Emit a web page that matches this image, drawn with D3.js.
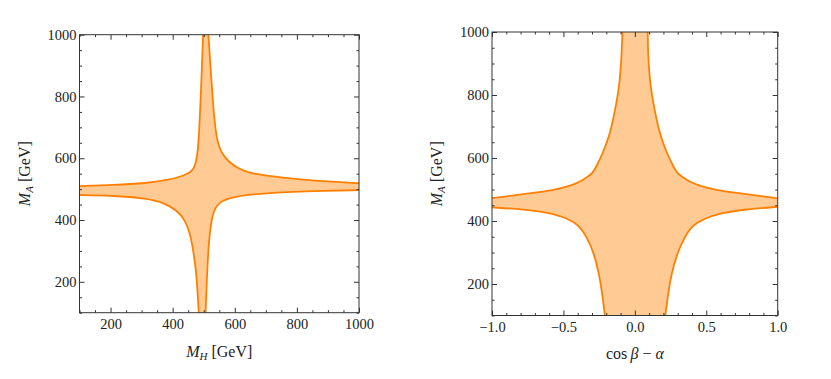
<!DOCTYPE html>
<html>
<head>
<meta charset="utf-8">
<script src="https://cdn.jsdelivr.net/npm/d3@7"></script>
<style>
  body { margin: 0; background: #fff; }
  svg text { font-family: "Liberation Serif", "DejaVu Serif", serif; fill: #222; }
</style>
</head>
<body>
<svg id="chart" width="831" height="379"></svg>
<script>
// ---- left panel: M_H vs M_A, boundary branches ----
var mhUpperLeft = [[498,1000],[494,894],[490,786],[485,678],[481,624],[476,592],[470,572],[463,560],[450,551],[424,540],[386,530],[316,519],[209,513],[100,510]];
var mhLowerLeft = [[100,481],[209,479],[316,470],[370,457],[413,432],[440,400],[456,357],[466,303],[475,238],[480,174],[484,100]];
var mhLowerRight = [[506,100],[509,184],[514,292],[520,368],[531,432],[552,460],[595,476],[692,487],[853,494],[1000,497]];
var mhUpperRight = [[1000,519],[853,527],[745,538],[659,550],[627,560],[606,571],[590,581],[568,603],[555,624],[547,646],[539,678],[529,786],[522,894],[515,1000]];

// ---- right panel: cos(beta - alpha) vs M_A ----
var cbaUpperLeft = [[-0.087,1000],[-0.092,932],[-0.107,826],[-0.152,721],[-0.18,668],[-0.225,615],[-0.27,572],[-0.30,550],[-0.33,541],[-0.38,525],[-0.46,510],[-0.57,498],[-0.74,488],[-0.91,477],[-1,473]];
var cbaLowerLeft = [[-1,443],[-0.77,437],[-0.60,426],[-0.46,407],[-0.39,385],[-0.337,350],[-0.285,297],[-0.25,230],[-0.23,175],[-0.21,100]];
var cbaLowerRight = [[0.213,100],[0.235,175],[0.255,230],[0.295,297],[0.35,350],[0.40,385],[0.48,407],[0.61,426],[0.773,437],[1,445]];
var cbaUpperRight = [[1,472],[0.91,477],[0.74,488],[0.57,498],[0.46,510],[0.38,525],[0.33,541],[0.30,550],[0.27,572],[0.225,615],[0.18,668],[0.152,721],[0.107,826],[0.092,932],[0.09,1000]];

// ticks
var mhMajor = [200,400,600,800,1000];
var mhMinor = d3.range(100, 1001, 50).filter(function(v){ return mhMajor.indexOf(v) < 0; });
var maMajor = [200,400,600,800,1000];
var maMinor = d3.range(100, 1001, 50).filter(function(v){ return maMajor.indexOf(v) < 0; });
var cbaMajor = [-1,-0.5,0,0.5,1];
var cbaMinor = d3.range(-10, 11).map(function(v){ return v/10; }).filter(function(v){ return v*2 !== Math.round(v*2); });

var svg = d3.select('#chart');
var orange = '#ff8000';
var serif = '"Liberation Serif", "DejaVu Serif", serif';

function panel(cfg) {
    var x = d3.scaleLinear().domain(cfg.xDomain).range([cfg.left, cfg.right]);
    var y = d3.scaleLinear().domain([100, 1000]).range([cfg.bottom, cfg.top]);
    var g = svg.append('g');

    g.append('clipPath').attr('id', 'clip-' + cfg.id)
        .append('rect')
        .attr('x', cfg.left).attr('y', cfg.top)
        .attr('width', cfg.right - cfg.left).attr('height', cfg.bottom - cfg.top);

    // basis spline smooths out small reading errors, still ends on the frame
    var line = d3.line()
        .x(function(d){ return x(d[0]); })
        .y(function(d){ return y(d[1]); })
        .curve(d3.curveBasis);

    var plot = g.append('g').attr('clip-path', 'url(#clip-' + cfg.id + ')');

    // filled region: branches joined in order round the cross
    var fillPath = cfg.branches.map(function(b, i){
        var p = line(b);
        return i === 0 ? p : 'L' + p.slice(1);
    }).join('') + 'Z';
    plot.append('path')
        .attr('d', fillPath)
        .attr('fill', orange)
        .attr('fill-opacity', 0.42)
        .attr('stroke', 'none');

    plot.selectAll('.branch')
        .data(cfg.branches)
        .enter().append('path')
        .attr('class', 'branch')
        .attr('d', line)
        .attr('fill', 'none')
        .attr('stroke', orange)
        .attr('stroke-width', 1.8);

    function axis(maker, scale, values, size, labels, pad, transform) {
        var a = maker(scale).tickValues(values).tickSizeInner(-size).tickSizeOuter(0).tickPadding(pad);
        if (!labels) a.tickFormat('');
        else a.tickFormat(labels);
        var ag = g.append('g').attr('transform', transform).call(a)
            .attr('font-family', serif).attr('font-size', 14.5);
        ag.select('.domain').remove();
        ag.selectAll('line').attr('stroke', '#333');
        ag.selectAll('text').attr('fill', '#222');
        return ag;
    }

    var xb = 'translate(0,' + cfg.bottom + ')', xt = 'translate(0,' + cfg.top + ')';
    var yl = 'translate(' + cfg.left + ',0)', yr = 'translate(' + cfg.right + ',0)';
    axis(d3.axisBottom, x, cfg.xMajor, 5, cfg.xFormat, 6, xb);
    axis(d3.axisBottom, x, cfg.xMinor, 2.5, false, 6, xb);
    axis(d3.axisTop, x, cfg.xMajor, 5, false, 6, xt);
    axis(d3.axisTop, x, cfg.xMinor, 2.5, false, 6, xt);
    axis(d3.axisLeft, y, maMajor, 5, d3.format('d'), 3, yl);
    axis(d3.axisLeft, y, maMinor, 2.5, false, 3, yl);
    axis(d3.axisRight, y, maMajor, 5, false, 3, yr);
    axis(d3.axisRight, y, maMinor, 2.5, false, 3, yr);

    g.append('rect')
        .attr('x', cfg.left).attr('y', cfg.top)
        .attr('width', cfg.right - cfg.left).attr('height', cfg.bottom - cfg.top)
        .attr('fill', 'none').attr('stroke', '#333').attr('stroke-width', 1);

    // y label
    var ylab = g.append('text')
        .attr('transform', 'translate(' + cfg.yLabelX + ',' + ((cfg.top + cfg.bottom) / 2) + ') rotate(-90)')
        .attr('text-anchor', 'middle')
        .style('font-size', '16px');
    ylab.append('tspan').style('font-style', 'italic').text('M');
    ylab.append('tspan').style('font-style', 'italic').style('font-size', '11px').attr('dy', 3).text('A');
    ylab.append('tspan').attr('dy', -3).text(' [GeV]');

    // x label
    var xlab = g.append('text')
        .attr('x', (cfg.left + cfg.right) / 2)
        .attr('y', cfg.xLabelY)
        .attr('text-anchor', 'middle')
        .style('font-size', '16px');
    cfg.xLabel(xlab);
}

panel({
    id: 'mh',
    left: 79.5, right: 359, top: 34.7, bottom: 312.7,
    xDomain: [100, 1000],
    xMajor: mhMajor, xMinor: mhMinor, xFormat: d3.format('d'),
    branches: [mhUpperLeft, mhLowerLeft, mhLowerRight, mhUpperRight],
    yLabelX: 30, xLabelY: 357,
    xLabel: function(t){
        t.append('tspan').style('font-style', 'italic').text('M');
        t.append('tspan').style('font-style', 'italic').style('font-size', '11px').attr('dy', 3).text('H');
        t.append('tspan').attr('dy', -3).text(' [GeV]');
    }
});

panel({
    id: 'cba',
    left: 492, right: 777.7, top: 32, bottom: 315.5,
    xDomain: [-1, 1],
    xMajor: cbaMajor, xMinor: cbaMinor, xFormat: d3.format('.1f'),
    branches: [cbaUpperLeft, cbaLowerLeft, cbaLowerRight, cbaUpperRight],
    yLabelX: 442, xLabelY: 359,
    xLabel: function(t){
        t.append('tspan').text('cos\u2009');
        t.append('tspan').style('font-style', 'italic').text('\u03b2');
        t.append('tspan').text(' \u2212 ');
        t.append('tspan').style('font-style', 'italic').text('\u03b1');
    }
});
</script>
</body>
</html>
